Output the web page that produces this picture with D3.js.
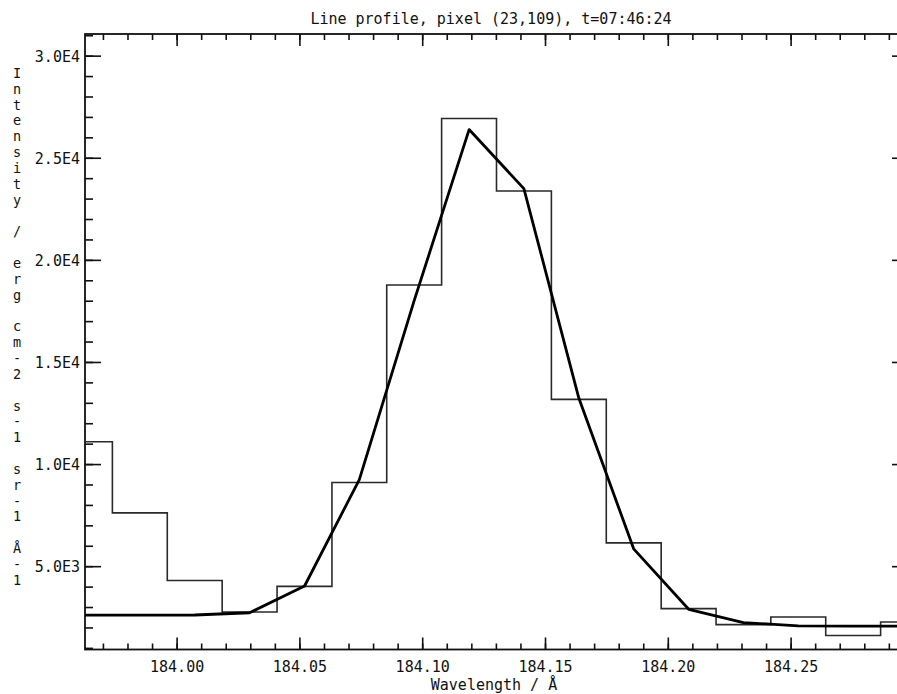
<!DOCTYPE html>
<html>
<head>
<meta charset="utf-8">
<script src="https://cdn.jsdelivr.net/npm/d3@7"></script>
<style>
  html, body { margin: 0; padding: 0; background: #fff; }
  svg { display: block; }
  text { font-family: "DejaVu Sans Mono", monospace; font-size: 15px; fill: #111; }
</style>
</head>
<body>
<svg id="chart" width="897" height="694"></svg>
<script>
// Spectral pixels (Å) and measured / fitted intensities
const wavelength = [183.9627, 183.9850, 184.0074, 184.0297, 184.0521, 184.0744, 184.0967, 184.1191,
                    184.1414, 184.1638, 184.1861, 184.2085, 184.2308, 184.2531, 184.2755, 184.2978];
const intensity  = [11090, 7610, 4300, 2760, 4010, 9100, 18770, 26920,
                    23370, 13170, 6140, 2920, 2140, 2510, 1605, 2270];
const fitted     = [2600, 2600, 2610, 2720, 4030, 9240, 17990, 26380,
                    23490, 13220, 5850, 2890, 2240, 2075, 2060, 2060];

const xMajor = [184.00, 184.05, 184.10, 184.15, 184.20, 184.25];
const xMinor = d3.range(183.97, 184.295, 0.01).map(v => +v.toFixed(2));
const yMajor = [5000, 10000, 15000, 20000, 25000, 30000];
const yMinor = d3.range(1000, 31001, 1000);

const titleText = "Line profile, pixel (23,109), t=07:46:24";
const xTitle = "Wavelength / Å";
const yTitle = "Intensity / erg cm-2 s-1 sr-1 Å-1";

const svg = d3.select("#chart");
const m = { left: 85, top: 34, right: 908, bottom: 649.5 };

const x = d3.scaleLinear().domain([wavelength[0], wavelength[wavelength.length - 1]]).range([m.left, m.right]);
const y = d3.scaleLinear().domain([920, 31060]).range([m.bottom, m.top]);

svg.append("clipPath").attr("id", "plotclip")
  .append("rect").attr("x", m.left).attr("y", m.top)
  .attr("width", m.right - m.left).attr("height", m.bottom - m.top);

const yFmt = d => d >= 10000 ? (d / 1e4).toFixed(1) + "E4" : (d / 1e3).toFixed(1) + "E3";

function styleAxis(g) {
  g.select(".domain").remove();
  g.selectAll(".tick line").attr("stroke", "#111").attr("stroke-width", 1.6);
}

// bottom axis
svg.append("g").attr("transform", `translate(0,${m.bottom})`)
  .call(d3.axisBottom(x).tickValues(xMinor).tickSize(-6).tickFormat(""))
  .call(styleAxis);
const xb = svg.append("g").attr("transform", `translate(0,${m.bottom})`)
  .call(d3.axisBottom(x).tickValues(xMajor).tickSize(-12).tickPadding(0).tickFormat(d => d.toFixed(2)))
  .call(styleAxis);
xb.selectAll(".tick text").attr("y", 22).attr("dy", 0).attr("fill", "#111")
  .style("font-family", "DejaVu Sans Mono, monospace").style("font-size", "15px");

// top axis
svg.append("g").attr("transform", `translate(0,${m.top})`)
  .call(d3.axisTop(x).tickValues(xMinor).tickSize(-6).tickFormat(""))
  .call(styleAxis);
svg.append("g").attr("transform", `translate(0,${m.top})`)
  .call(d3.axisTop(x).tickValues(xMajor).tickSize(-12).tickFormat(""))
  .call(styleAxis);

// left axis
svg.append("g").attr("transform", `translate(${m.left},0)`)
  .call(d3.axisLeft(y).tickValues(yMinor).tickSize(-8).tickFormat(""))
  .call(styleAxis);
const yl = svg.append("g").attr("transform", `translate(${m.left},0)`)
  .call(d3.axisLeft(y).tickValues(yMajor).tickSize(-16).tickPadding(0).tickFormat(yFmt))
  .call(styleAxis);
yl.selectAll(".tick text").attr("x", -5).attr("dy", "0.36em").attr("fill", "#111")
  .style("font-family", "DejaVu Sans Mono, monospace").style("font-size", "15px");

// right axis
svg.append("g").attr("transform", `translate(${m.right},0)`)
  .call(d3.axisRight(y).tickValues(yMinor).tickSize(-8).tickFormat(""))
  .call(styleAxis);
svg.append("g").attr("transform", `translate(${m.right},0)`)
  .call(d3.axisRight(y).tickValues(yMajor).tickSize(-16).tickFormat(""))
  .call(styleAxis);

// plot frame
svg.append("rect")
  .attr("x", m.left).attr("y", m.top)
  .attr("width", m.right - m.left).attr("height", m.bottom - m.top)
  .attr("fill", "none").attr("stroke", "#111").attr("stroke-width", 1.8);

const plot = svg.append("g").attr("clip-path", "url(#plotclip)");

// observed profile as a histogram
plot.append("path")
  .datum(wavelength.map((w, i) => [w, intensity[i]]))
  .attr("fill", "none").attr("stroke", "#2a2a2a").attr("stroke-width", 1.6)
  .attr("d", d3.line().x(d => x(d[0])).y(d => y(d[1])).curve(d3.curveStep));

// fitted profile
plot.append("path")
  .datum(wavelength.map((w, i) => [w, fitted[i]]))
  .attr("fill", "none").attr("stroke", "#000").attr("stroke-width", 2.8)
  .attr("stroke-linejoin", "round")
  .attr("d", d3.line().x(d => x(d[0])).y(d => y(d[1])));

// titles
svg.append("text").attr("x", (m.left + 897) / 2).attr("y", 24)
  .attr("text-anchor", "middle").text(titleText);
svg.append("text").attr("x", 494).attr("y", 690)
  .attr("text-anchor", "middle").text(xTitle);

// vertical title with upright stacked characters, one glyph per text
const chars = Array.from(yTitle);
const yStart = 73, yEnd = 580;
const step = (yEnd - yStart) / (chars.length - 1);
svg.append("g").attr("class", "ytitle")
  .selectAll("text")
  .data(chars.map((c, i) => ({ c, i })).filter(d => d.c !== " "))
  .join("text")
  .attr("x", 17)
  .attr("y", d => yStart + d.i * step)
  .attr("dy", "0.36em")
  .attr("text-anchor", "middle")
  .style("font-size", "13.5px")
  .text(d => d.c);
</script>
</body>
</html>
